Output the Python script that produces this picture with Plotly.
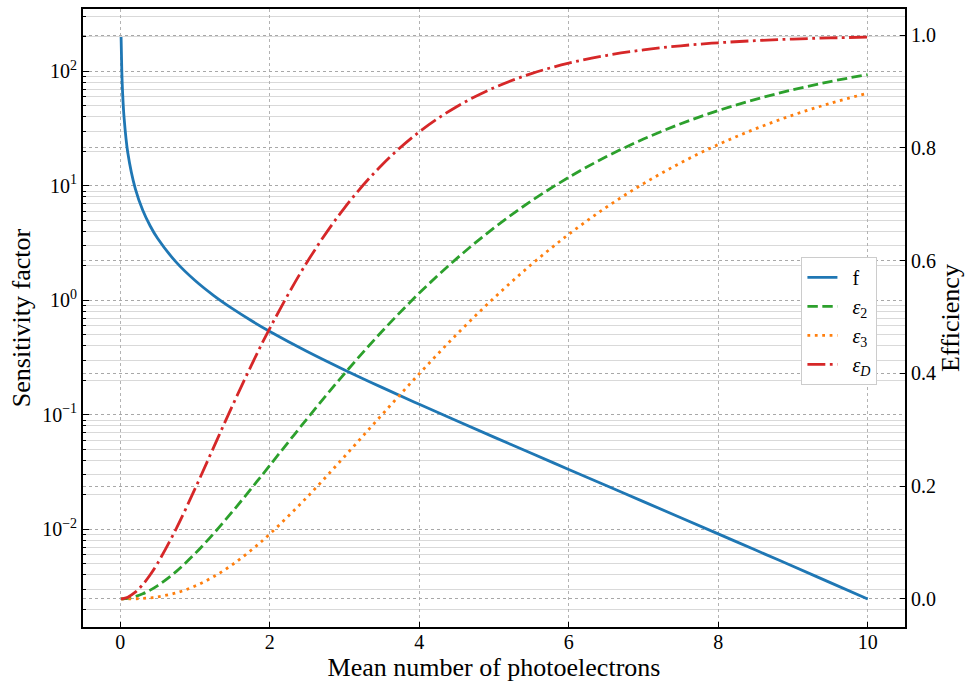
import plotly.graph_objects as go

# Mean number of photoelectrons (x)
mu = [0.01, 0.02, 0.03, 0.05, 0.1, 0.2, 0.3, 0.4, 0.5, 0.75, 1.0, 1.25, 1.5,
      1.75, 2.0, 2.5, 3.0, 3.5, 4.0, 4.5, 5.0, 5.5, 6.0, 6.5, 7.0, 7.5, 8.0,
      8.5, 9.0, 9.5, 10.0]

# Sensitivity factor (left, log axis)
f_vals = [199.4, 99.4, 66.1, 39.45, 19.45, 9.453, 6.124, 4.462, 3.466, 2.144,
          1.489, 1.100, 0.845, 0.666, 0.5346, 0.3574, 0.2467, 0.1736, 0.1236,
          0.0886, 0.0638, 0.0461, 0.0333, 0.0241, 0.01744, 0.01261, 0.00911,
          0.00658, 0.00475, 0.00342, 0.00246]

# Efficiencies (right axis)
eps2 = [0.0000111, 0.0000442, 0.000099, 0.000273, 0.00107, 0.00416, 0.00906,
        0.0156, 0.0236, 0.0489, 0.0804, 0.1161, 0.1548, 0.1953, 0.2368, 0.3197,
        0.3996, 0.4742, 0.5423, 0.6035, 0.6579, 0.7058, 0.7476, 0.7840, 0.8155,
        0.8426, 0.8659, 0.8858, 0.9029, 0.9175, 0.9299]
eps3 = [0.0, 0.0000003, 0.000001, 0.0000045, 0.0000352, 0.000268, 0.000862,
        0.00195, 0.00362, 0.0108, 0.0228, 0.0396, 0.0609, 0.0863, 0.1152,
        0.1807, 0.2526, 0.3265, 0.3993, 0.4689, 0.5337, 0.5930, 0.6465, 0.6942,
        0.7364, 0.7734, 0.8057, 0.8337, 0.8580, 0.8788, 0.8968]
epsD = [0.0000332, 0.000132, 0.000295, 0.000811, 0.00315, 0.01194, 0.02544,
        0.04286, 0.06347, 0.1251, 0.1955, 0.2692, 0.3426, 0.4133, 0.4799,
        0.5975, 0.6936, 0.7695, 0.8282, 0.8729, 0.9065, 0.9315, 0.9500, 0.9636,
        0.9736, 0.9809, 0.9862, 0.9900, 0.9928, 0.9948, 0.9963]

x_ticks = [0, 2, 4, 6, 8, 10]
log_ticks = [1e-2, 1e-1, 1e0, 1e1, 1e2]
log_labels = ["10<sup>−2</sup>", "10<sup>−1</sup>", "10<sup>0</sup>",
              "10<sup>1</sup>", "10<sup>2</sup>"]
eff_ticks = [0.0, 0.2, 0.4, 0.6, 0.8, 1.0]

FONT = "Liberation Serif"
LW = 2.8
TICK_SIZE = 20
TITLE_SIZE = 26
PAD = "\u2002"  # gap between legend line sample and its label

# minor decade positions 2..9 x 10^k on the log axis
minor_vals = [m * 10.0 ** k for k in range(-3, 3) for m in range(2, 10)]

fig = go.Figure()
fig.add_trace(go.Scatter(
    x=mu, y=f_vals, name=PAD + "f", mode="lines", yaxis="y",
    line=dict(color="#1f77b4", width=LW, shape="spline", smoothing=1.0)))
fig.add_trace(go.Scatter(
    x=mu, y=eps2, name=PAD + "<i>ε</i><sub>2</sub>", mode="lines", yaxis="y2",
    line=dict(color="#2ca02c", width=LW, shape="spline",
              dash=f"{3.7*LW:.1f}px,{1.6*LW:.1f}px")))
fig.add_trace(go.Scatter(
    x=mu, y=eps3, name=PAD + "<i>ε</i><sub>3</sub>", mode="lines", yaxis="y2",
    line=dict(color="#ff7f0e", width=LW, shape="spline",
              dash=f"{1.0*LW:.1f}px,{1.65*LW:.1f}px")))
fig.add_trace(go.Scatter(
    x=mu, y=epsD, name=PAD + "<i>ε</i><sub><i>D</i></sub>", mode="lines",
    yaxis="y2",
    line=dict(color="#d62728", width=LW, shape="spline",
              dash=f"{6.4*LW:.1f}px,{1.6*LW:.1f}px,{1.0*LW:.1f}px,{1.6*LW:.1f}px")))

fig.update_layout(
    width=966, height=682,
    margin=dict(l=83, r=61, t=9, b=55),
    paper_bgcolor="white", plot_bgcolor="white",
    font=dict(family=FONT, size=TICK_SIZE, color="black"),
    showlegend=True,
    legend=dict(x=0.874, y=0.599, xanchor="left", yanchor="top",
                bgcolor="white", bordercolor="#cccccc", borderwidth=1,
                font=dict(family=FONT, size=20), tracegroupgap=0),
    xaxis=dict(
        range=[-0.4995, 10.4995], tickvals=x_ticks, automargin=False,
        ticks="inside", ticklen=5, tickwidth=1.2, tickcolor="black",
        ticklabelstandoff=-4,
        showline=True, linecolor="black", linewidth=1.8, mirror=True,
        showgrid=True, gridcolor="#b3b3b3", griddash="dot", gridwidth=1,
        zeroline=False,
        tickfont=dict(family=FONT, size=TICK_SIZE),
        title=dict(text="Mean number of photoelectrons",
                   font=dict(family=FONT, size=TITLE_SIZE), standoff=8)),
    yaxis=dict(
        type="log", range=[-2.8538, 2.5451], automargin=False,
        tickmode="array", tickvals=log_ticks, ticktext=log_labels,
        ticks="inside", ticklen=6, tickwidth=1.2, tickcolor="black",
        showline=True, linecolor="black", linewidth=1.8,
        showgrid=True, gridcolor="#a8a8a8", griddash="dot", gridwidth=1,
        minor=dict(tickmode="array", tickvals=minor_vals, ticks="inside",
                   ticklen=3, tickcolor="black", showgrid=True,
                   gridcolor="#d9d9d9", gridwidth=1.2, griddash="solid"),
        zeroline=False,
        tickfont=dict(family=FONT, size=TICK_SIZE),
        title=dict(text="Sensitivity factor",
                   font=dict(family=FONT, size=TITLE_SIZE), standoff=4)),
    yaxis2=dict(
        overlaying="y", side="right", range=[-0.0498, 1.0461],
        automargin=False,
        tickmode="array", tickvals=eff_ticks, tickformat=".1f",
        ticks="inside", ticklen=5, tickwidth=1.2, tickcolor="black",
        showline=True, linecolor="black", linewidth=1.8,
        showgrid=True, gridcolor="#a8a8a8", griddash="dot", gridwidth=1,
        zeroline=False,
        tickfont=dict(family=FONT, size=TICK_SIZE),
        title=dict(text="Efficiency", font=dict(family=FONT, size=TITLE_SIZE),
                   standoff=6)),
)

fig.write_html("out.html")
